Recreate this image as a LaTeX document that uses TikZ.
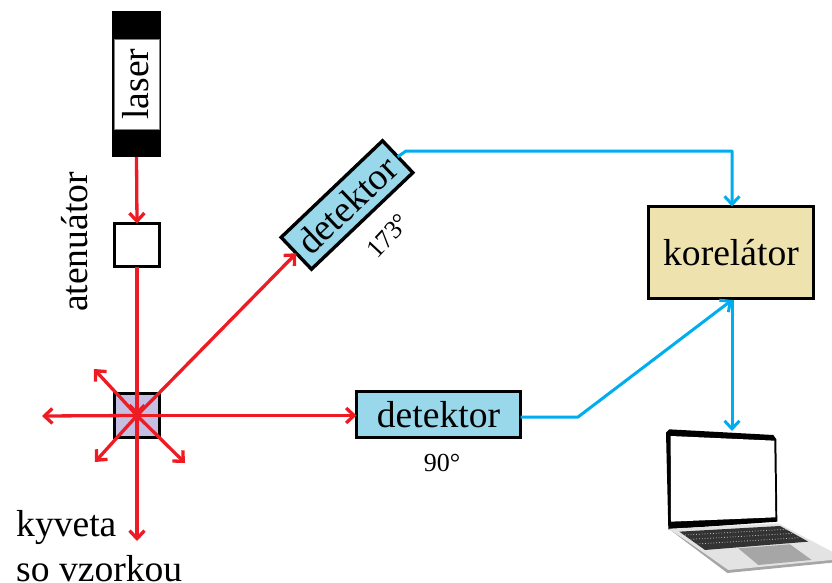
\documentclass[tikz,border=0pt]{standalone}
\usepackage{fontspec}
\setmainfont{Liberation Serif}
\usetikzlibrary{arrows.meta}
\definecolor{beamred}{HTML}{ED1C24}
\definecolor{sigblue}{HTML}{00AEEF}
\definecolor{detblue}{HTML}{99D8EA}
\definecolor{corryel}{HTML}{EEE2AF}
\definecolor{samplev}{HTML}{C5BFE3}
\tikzset{
  lab/.style={font=\fontsize{37.6}{40}\selectfont, inner sep=0pt},
  small/.style={font=\fontsize{26}{28}\selectfont, inner sep=0pt},
  boxed/.style={draw=black, line width=3.4pt, inner sep=0pt, outer sep=0pt},
  beam/.style={draw=beamred, line width=3.3pt},
  beama/.style={beam, -{Straight Barb[length=8pt,width=15pt,line width=3.3pt]}},
  sig/.style={draw=sigblue, line width=3pt, line join=round},
  siga/.style={sig, -{Straight Barb[length=8pt,width=15pt,line width=3pt]}}
}
\begin{document}
\begin{tikzpicture}[x=1pt,y=-1pt]
\useasboundingbox (0,0) rectangle (832,583);
% laser
\node[fill=black, inner sep=0pt, outer sep=0pt, minimum width=49pt, minimum height=146pt] (laser) at (136.5,84) {};
\node[fill=white, draw=gray, line width=0.6pt, inner sep=0pt, minimum width=45pt, minimum height=90pt] (laserlabel) at (136.5,84) {};
\node[lab, rotate=90] (lasertext) at (136,84) {laser};
% attenuator
\node[boxed, fill=white, minimum width=45pt, minimum height=43pt] (atten) at (137,245) {};
\node[lab, rotate=90] (attentext) at (75,242) {atenuátor};
% sample
\node[boxed, fill=samplev, minimum width=45pt, minimum height=44pt] (sample) at (137,415.5) {};
% detectors
\node[boxed, fill=detblue, minimum width=164pt, minimum height=46pt, lab, line width=3.4pt] (det90) at (438.5,414.5) {detektor};
\node[small] (deg90) at (442,463) {90°};
\node[boxed, fill=detblue, minimum width=140pt, minimum height=44pt, lab, line width=3.4pt, rotate=43.6] (det173) at (347,205) {\raisebox{-3pt}{detektor}};
\node[small, rotate=47] (deg173) at (388,236) {173°};
% correlator
\node[boxed, fill=corryel, minimum width=165pt, minimum height=92pt, lab, line width=3.4pt] (corr) at (731,252.5) {korelátor};
% sample label
\node[lab, anchor=base west] (kyv) at (16,536) {kyveta};
\node[lab, anchor=base west, text depth=0pt] (vz) at (16,581) {so vzorkou};
% free ends
\coordinate (tipS) at (137,541);
\coordinate (tipW) at (42,416);
\coordinate (tipNW) at (94,369);
\coordinate (tipSW) at (95,462);
\coordinate (tipSE) at (185,463);
\coordinate (bend90) at (578,417);
\coordinate (bendA) at (406,151);
\coordinate (bendB) at (732,151);
\coordinate (lapTop) at (732,431);
\coordinate (corrB) at (732,300);
% beams
\draw[beama] (laser.south) -- (atten.north);
\draw[beama] (atten.south) -- (sample.center);
\draw[beama] (sample.center) -- (sample.center |- tipS);
\draw[beama] (sample.center) -- (tipW);
\draw[beama] (sample.center) -- (tipNW);
\draw[beama] (sample.center) -- (tipSW);
\draw[beama] (sample.center) -- (tipSE);
\draw[beama] (sample.center) -- (det90.west |- sample.center);
\draw[beama] (sample.center) -- (det173.west);
% signals
\draw[siga] (det173.east) -- (bendA) -- (bendB) -- (corr.north -| bendB);
\draw[siga] (det90.east |- bend90) -- (bend90) -- (corrB);
\draw[siga] (corrB) -- (lapTop);
% laptop
\begin{scope}[shift={(640,410)}, x=0.3333pt, y=-0.3333pt]
  \fill[black] (78,68) -- (88,58) -- (400,75) -- (409,88) -- (412,335) -- (85,358) -- cycle;
  \fill[white] (92,78) -- (403,92) -- (406,322) -- (93,335) -- cycle;
  \fill[gray!70] (88,358) -- (262,489) -- (576,458) -- (576,440) -- (260,470) -- cycle;
  \fill[black!11] (88,356) -- (415,340) -- (576,425) -- (576,450) -- (265,480) -- cycle;
  \fill[black!80] (118,365) -- (420,348) -- (505,395) -- (195,420) -- cycle;
  \draw[white!75!black, line width=0.8pt, dotted] (135,375) -- (440,358) (152,388) -- (462,370) (170,402) -- (480,383);
  \fill[black!35] (295,415) -- (450,403) -- (515,450) -- (355,465) -- cycle;
\end{scope}
\end{tikzpicture}
\end{document}
